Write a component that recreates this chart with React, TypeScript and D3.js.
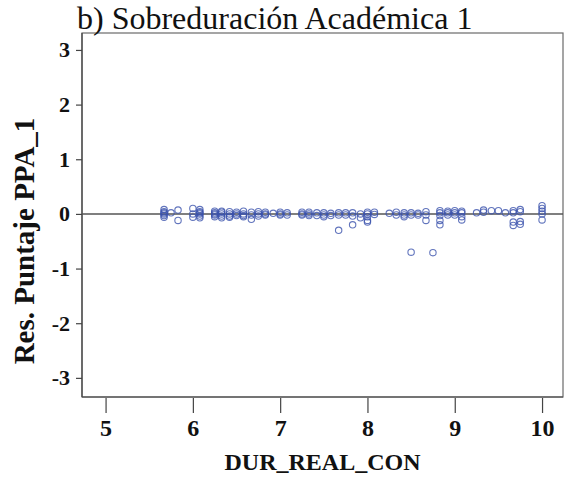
import React, { useEffect, useRef } from 'react';
import * as d3 from 'd3';

// durations (years), one entry per column of points
const durations = [
  5.67, 5.75, 5.83, 6.0, 6.08, 6.25, 6.33, 6.42, 6.5, 6.58, 6.67, 6.75, 6.83, 6.92,
  7.0, 7.08, 7.25, 7.33, 7.42, 7.5, 7.58, 7.67, 7.75, 7.83, 7.92, 8.0, 8.08, 8.25,
  8.33, 8.42, 8.5, 8.58, 8.67, 8.75, 8.83, 8.92, 9.0, 9.08, 9.25, 9.33, 9.42, 9.5,
  9.58, 9.67, 9.75, 10.0,
];

// residuals for each duration column
const residuals = [
  [0.08, 0.04, 0.02, 0.0, -0.03, -0.06],
  [0.02],
  [0.07, -0.12],
  [0.1, 0.0, -0.06],
  [0.08, 0.04, 0.02, 0.0, -0.04, -0.07],
  [0.05, 0.02, 0.0, -0.02, -0.05],
  [0.05, 0.03, 0.0, -0.04, -0.07],
  [0.04, 0.0, -0.04, -0.06],
  [0.03, 0.0, -0.03],
  [0.05, 0.0, -0.03, -0.05],
  [0.03, -0.02, -0.1],
  [0.04, 0.0, -0.04],
  [0.03, 0.0, -0.02],
  [0.01],
  [0.03, 0.0, -0.02],
  [0.02, -0.02],
  [0.03, 0.0, -0.02],
  [0.03, 0.0, -0.03],
  [0.02, -0.03],
  [0.02, -0.02, -0.05],
  [0.01, -0.03],
  [0.02, -0.02, -0.3],
  [0.02, -0.02],
  [0.02, -0.04, -0.2],
  [0.0, -0.07],
  [0.03, 0.0, -0.05, -0.12, -0.15],
  [0.03, -0.01],
  [0.01],
  [0.03, -0.02],
  [0.02, -0.02, -0.05],
  [0.02, -0.02, -0.7],
  [0.01, -0.02],
  [0.04, -0.02, -0.12],
  [-0.71],
  [0.06, 0.02, -0.03, -0.12, -0.2],
  [0.05, 0.02, -0.02],
  [0.06, 0.02, -0.02],
  [0.05, 0.02, -0.05, -0.11],
  [0.02],
  [0.07, 0.03],
  [0.06],
  [0.06],
  [0.02],
  [0.06, 0.02, -0.15, -0.21],
  [0.08, 0.04, -0.14, -0.19],
  [0.15, 0.1, 0.05, 0.0, -0.11],
];

const xTicks = [5, 6, 7, 8, 9, 10];
const yTicks = [3, 2, 1, 0, -1, -2, -3];

const title = 'b) Sobreduración Académica 1';
const xTitle = 'DUR_REAL_CON';
const yTitle = 'Res. Puntaje PPA_1';

const App: React.FC = () => {
  const ref = useRef<SVGSVGElement | null>(null);

  useEffect(() => {
    if (!ref.current) return;
    const svg = d3.select(ref.current);
    svg.selectAll('*').remove();

    const width = 566;
    const height = 480;
    const plot = { left: 82, right: 563, top: 33, bottom: 397 };
    const serif = 'Liberation Serif';

    const x = d3.scaleLinear().domain([4.73, 10.24]).range([plot.left, plot.right]);
    const y = d3.scaleLinear().domain([-3.35, 3.31]).range([plot.bottom, plot.top]);

    svg.attr('width', width).attr('height', height)
      .style('font-family', serif);

    const points = durations.flatMap((d, i) => residuals[i].map(r => ({ d, r })));

    // frame
    svg.append('rect')
      .attr('x', plot.left).attr('y', plot.top)
      .attr('width', plot.right - plot.left).attr('height', plot.bottom - plot.top)
      .attr('fill', 'none').attr('stroke', '#6a6a6a').attr('stroke-width', 1.2);
    svg.append('line')
      .attr('x1', plot.left).attr('x2', plot.left).attr('y1', plot.top).attr('y2', plot.bottom)
      .attr('stroke', '#444').attr('stroke-width', 1.2);
    svg.append('line')
      .attr('x1', plot.left).attr('x2', plot.right).attr('y1', plot.bottom).attr('y2', plot.bottom)
      .attr('stroke', '#444').attr('stroke-width', 1.2);

    // axes
    const xAxis = svg.append('g')
      .attr('transform', `translate(0,${plot.bottom + 1})`)
      .call(d3.axisBottom(x).tickValues(xTicks).tickFormat(d => String(d))
        .tickSize(15).tickSizeOuter(0).tickPadding(6));
    xAxis.attr('font-family', serif);
    xAxis.select('.domain').remove();
    xAxis.selectAll('line').attr('stroke', '#444').attr('stroke-width', 1.2);
    xAxis.selectAll('text')
      .attr('font-family', serif).attr('font-size', 24).attr('font-weight', 'bold').attr('fill', '#111');

    const yAxis = svg.append('g')
      .attr('transform', `translate(${plot.left},0)`)
      .call(d3.axisLeft(y).tickValues(yTicks).tickFormat(d => String(d))
        .tickSize(6).tickSizeOuter(0).tickPadding(6));
    yAxis.attr('font-family', serif);
    yAxis.select('.domain').remove();
    yAxis.selectAll('line').attr('stroke', '#444').attr('stroke-width', 1.2);
    yAxis.selectAll('text')
      .attr('font-family', serif).attr('font-size', 22).attr('font-weight', 'bold').attr('fill', '#111');

    // reference line at zero
    svg.append('line')
      .attr('x1', plot.left).attr('x2', plot.right)
      .attr('y1', y(0)).attr('y2', y(0))
      .attr('stroke', '#555').attr('stroke-width', 1.5);

    svg.append('g').selectAll('circle')
      .data(points)
      .enter().append('circle')
      .attr('cx', p => x(p.d))
      .attr('cy', p => y(p.r))
      .attr('r', 3.2)
      .attr('fill', 'none')
      .attr('stroke', '#3b52ad')
      .attr('stroke-opacity', 0.8)
      .attr('stroke-width', 1.1);

    svg.append('text')
      .attr('x', 77).attr('y', 29)
      .attr('font-family', serif).attr('font-size', 32).attr('fill', '#111')
      .text(title);

    svg.append('text')
      .attr('x', (plot.left + plot.right) / 2).attr('y', 470)
      .attr('text-anchor', 'middle')
      .attr('font-family', serif).attr('font-size', 24).attr('font-weight', 'bold').attr('fill', '#111')
      .text(xTitle);

    svg.append('text')
      .attr('transform', `translate(34,241) rotate(-90)`)
      .attr('text-anchor', 'middle')
      .attr('font-family', serif).attr('font-size', 29).attr('font-weight', 'bold').attr('fill', '#111')
      .text(yTitle);
  }, []);

  return <svg ref={ref} style={{ position: 'absolute', left: 0, top: 0 }} />;
};

export default App;
